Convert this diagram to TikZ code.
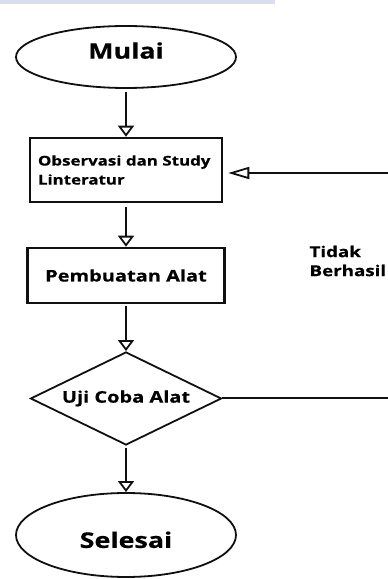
\documentclass[tikz,border=0pt]{standalone}
\usepackage{fontspec}
\setmainfont{Open Sans}
\newfontfamily\wideface[FakeStretch=1.25, BoldFeatures={FakeBold=0.5}]{Open Sans}
\usepackage{xcolor}
\definecolor{BandBlue}{HTML}{D8DEEF}
\definecolor{InkBlack}{HTML}{101010}
\usepackage{tikz}
\usetikzlibrary{shapes.geometric, arrows.meta}

\begin{document}
\begin{tikzpicture}[
  x=1pt, y=1pt,
  term/.style={ellipse, draw=InkBlack, line width=1.8pt, inner sep=0pt,
               font=\wideface\bfseries\fontsize{21.5}{24}\selectfont},
  proc/.style={rectangle, draw=InkBlack, line width=2.5pt, inner sep=0pt},
  cond/.style={diamond, aspect=2.05, draw=InkBlack, line width=1.8pt, inner sep=0pt,
               font=\wideface\bfseries\fontsize{16}{19}\selectfont},
  flow/.style={draw=InkBlack, line width=2.5pt,
               -{Triangle[open, width=16pt, length=11pt, line width=1.8pt]}},
  back/.style={draw=InkBlack, line width=2pt,
               -{Triangle[open, width=12pt, length=21pt, line width=1.8pt]}},
  lbl/.style={font=\wideface\bfseries\fontsize{15}{19}\selectfont, align=left},
]
\clip (0,0) rectangle (388,579);
\fill[BandBlue] (0,575) rectangle (275,579);

\node[term, minimum width=220pt, minimum height=62pt, text depth=13pt] (start) at (126,522) {Mulai};
\node[proc, minimum width=192pt, minimum height=64pt, text width=176pt, align=left,
      font=\wideface\bfseries\fontsize{13.5}{19}\selectfont] (obs) at (126,409)
      {Observasi dan Study\\Linteratur};
\node[proc, minimum width=197pt, minimum height=55pt,
      font=\wideface\bfseries\fontsize{16}{19}\selectfont] (build) at (126,303.5) {Pembuatan Alat};
\node[cond, minimum width=191pt, minimum height=93pt] (test) at (126,180.5) {Uji Coba Alat};
\node[term, minimum width=220pt, minimum height=84pt, text height=26pt] (stop) at (126,44) {Selesai};

\node[lbl, anchor=west] (fail) at (306,318) {Tidak\\Berhasil};

% alur utama
\draw[flow, shorten <=3pt] (start) -- (obs);
\draw[flow, shorten <=4pt] (obs) -- (build);
\draw[flow, shorten <=2pt] (build) -- (test);
\draw[flow, shorten <=2pt] (test) -- (stop);

% kembali bila gagal
\draw[back, shorten >=5pt] (test.east) -- (400,180.5) |- ([yshift=-3pt]obs.east);
\end{tikzpicture}
\end{document}
